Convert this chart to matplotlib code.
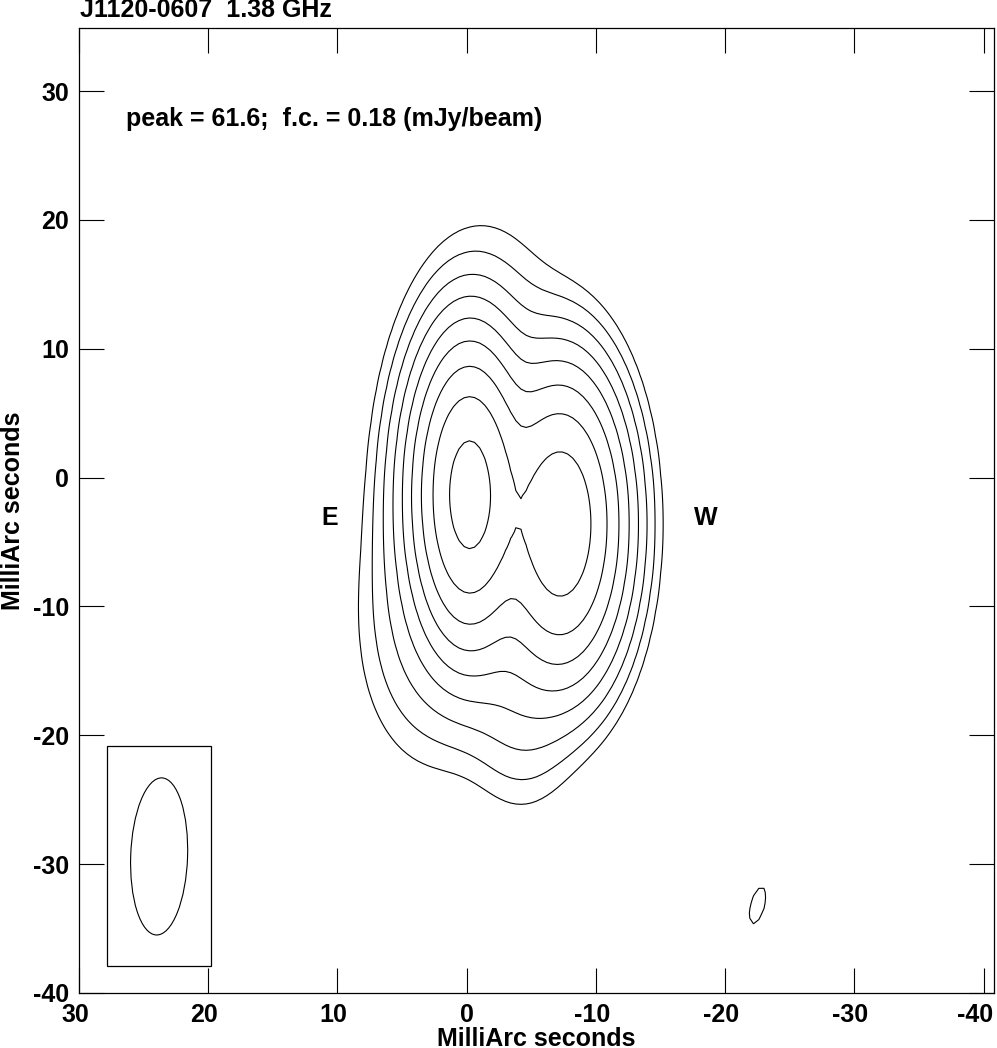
import numpy as np
import matplotlib
matplotlib.use('Agg')
import matplotlib.pyplot as plt
import matplotlib.transforms as mtransforms
from matplotlib.patches import Ellipse, Rectangle

# gaussian components (offsets in mas, mJy/beam)
#            E core  E wing  W core  W wing  north  south  SE     noise
comp_x   = [-0.2,   -0.2,   -7.3,   -7.3,   -2.5,  -4.2,  3.0,   -22.5]
comp_y   = [-1.3,   -1.3,   -3.6,   -3.6,   12.0,  -16.0, -12.0, -33.2]
comp_amp = [55.0,   7.0,    33.6,   5.0,    0.2,   0.9,   0.6,   0.2]
comp_sx  = [1.9,    2.9,    2.2,    2.9,    3.5,   2.4,   3.2,   1.2]
comp_sy  = [5.2,    6.9,    5.3,    6.5,    6.5,   5.0,   6.0,   3.2]
comp_pa  = [0,      0,      0,      0,      0,     0,     0,     -15]

peak = 61.6
first_contour = 0.18
levels = first_contour * 2.0 ** np.arange(9)

# restoring beam (FWHM, mas) and where it is drawn
beam_major = 12.2
beam_minor = 4.4
beam_pa = 2
beam_pos = (23.8, -29.4)
beam_box = (19.8, 27.8, -37.9, -20.85)

xticks = [30, 20, 10, 0, -10, -20, -30, -40]
yticks = [30, 20, 10, 0, -10, -20, -30, -40]

plt.rcParams['font.family'] = ['Liberation Sans', 'DejaVu Sans']
plt.rcParams['font.weight'] = 'bold'
plt.rcParams['axes.unicode_minus'] = False

xx = np.arange(-45, 36, 0.4)
yy = np.arange(-45, 41, 0.4)
X, Y = np.meshgrid(xx, yy)
Z = np.zeros_like(X)
for x0, y0, a, sx, sy, pa in zip(comp_x, comp_y, comp_amp, comp_sx, comp_sy, comp_pa):
    t = np.radians(pa)
    dx = (X - x0) * np.cos(t) - (Y - y0) * np.sin(t)
    dy = (X - x0) * np.sin(t) + (Y - y0) * np.cos(t)
    Z += a * np.exp(-0.5 * ((dx / sx) ** 2 + (dy / sy) ** 2))

fig = plt.figure(figsize=(9.97, 10.48), dpi=100)
ax = fig.add_axes([79 / 997, 55 / 1048, 915 / 997, 965 / 1048])

ax.contour(X, Y, Z, levels=levels, colors='black', linewidths=0.8)

ax.add_patch(Rectangle((beam_box[0], beam_box[2]), beam_box[1] - beam_box[0],
                       beam_box[3] - beam_box[2], fill=False, ec='black', lw=0.9))
ax.add_patch(Ellipse(beam_pos, beam_minor, beam_major, angle=beam_pa,
                     fill=False, ec='black', lw=0.8))

ax.set_xlim(30, -40.8)
ax.set_ylim(-40, 34.9)
ax.set_xticks(xticks)
ax.set_yticks(yticks)
ax.tick_params(direction='in', length=18, width=0.8, top=True, right=True,
               labelsize=18, pad=7)
for s in ax.spines.values():
    s.set_linewidth(0.9)

# nudge x tick labels a little left, the last one more so it fits
labs = ax.get_xticklabels()
for i, lab in enumerate(labs):
    shift = -4
    if xticks[i] == 0:
        shift = 0
    if i == len(labs) - 1:
        shift = -9
    lab.set_transform(lab.get_transform() +
                      mtransforms.ScaledTranslation(shift / 100, 0, fig.dpi_scale_trans))

ax.set_xlabel('MilliArc seconds', fontsize=18, fontweight='bold', labelpad=0.5)
ax.set_ylabel('MilliArc seconds', fontsize=18, fontweight='bold', labelpad=6)

ax.text(26.4, 27.8, 'peak = %.1f;  f.c. = %.2f (mJy/beam)' % (peak, first_contour),
        fontsize=18, fontweight='bold', va='center', ha='left')
ax.text(10.6, -3.1, 'E', fontsize=18, fontweight='bold', ha='center', va='center')
ax.text(-18.5, -3.1, 'W', fontsize=18, fontweight='bold', ha='center', va='center')

fig.text(80 / 997, 1 - 17 / 1048, 'J1120-0607  1.38 GHz', fontsize=18,
         fontweight='bold', ha='left', va='baseline')

fig.savefig('out.png', dpi=100)
